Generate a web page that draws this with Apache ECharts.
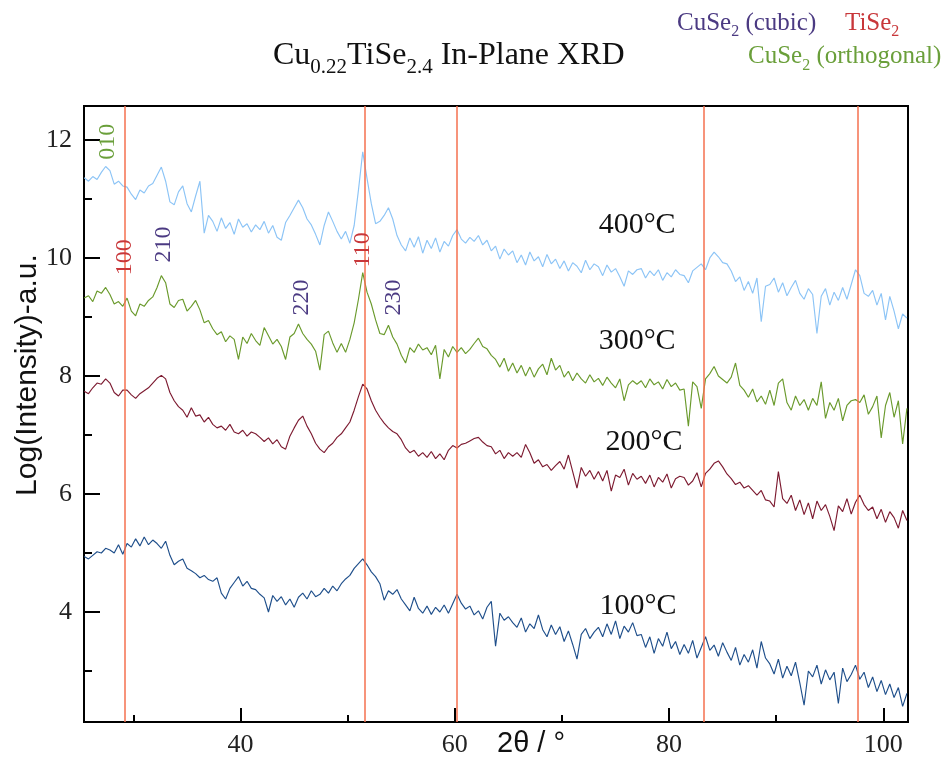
<!DOCTYPE html>
<html><head><meta charset="utf-8">
<script src="https://cdn.jsdelivr.net/npm/echarts@6/dist/echarts.min.js"></script>
<style>html,body{margin:0;padding:0;background:#fff}#c{width:943px;height:758px}</style>
</head><body><div id="c"></div>
<script>
// ---------- data ----------
const twoTheta = [
25.4,25.8,26.2,26.6,27.0,27.4,27.8,28.2,28.6,29.0,
29.4,29.8,30.2,30.6,31.0,31.4,31.8,32.2,32.6,33.0,
33.4,33.8,34.2,34.6,35.0,35.4,35.8,36.2,36.6,37.0,
37.4,37.8,38.2,38.6,39.0,39.4,39.8,40.2,40.6,41.0,
41.4,41.8,42.2,42.6,43.0,43.4,43.8,44.2,44.6,45.0,
45.4,45.8,46.2,46.6,47.0,47.4,47.8,48.2,48.6,49.0,
49.4,49.8,50.2,50.6,51.0,51.4,51.8,52.2,52.6,53.0,
53.4,53.8,54.2,54.6,55.0,55.4,55.8,56.2,56.6,57.0,
57.4,57.8,58.2,58.6,59.0,59.4,59.8,60.2,60.6,61.0,
61.4,61.8,62.2,62.6,63.0,63.4,63.8,64.2,64.6,65.0,
65.4,65.8,66.2,66.6,67.0,67.4,67.8,68.2,68.6,69.0,
69.4,69.8,70.2,70.6,71.0,71.4,71.8,72.2,72.6,73.0,
73.4,73.8,74.2,74.6,75.0,75.4,75.8,76.2,76.6,77.0,
77.4,77.8,78.2,78.6,79.0,79.4,79.8,80.2,80.6,81.0,
81.4,81.8,82.2,82.6,83.0,83.4,83.8,84.2,84.6,85.0,
85.4,85.8,86.2,86.6,87.0,87.4,87.8,88.2,88.6,89.0,
89.4,89.8,90.2,90.6,91.0,91.4,91.8,92.2,92.6,93.0,
93.4,93.8,94.2,94.6,95.0,95.4,95.8,96.2,96.6,97.0,
97.4,97.8,98.2,98.6,99.0,99.4,99.8,100.2,100.6,101.0,
101.4,101.8,102.2
];
const y400C = [
11.36,11.30,11.38,11.33,11.45,11.55,11.48,11.25,11.30,11.22,
11.20,11.08,10.99,11.15,11.10,11.22,11.26,11.40,11.54,11.30,
10.95,10.90,11.12,11.22,10.92,10.78,11.05,11.30,10.42,10.72,
10.62,10.45,10.68,10.50,10.60,10.40,10.66,10.52,10.58,10.44,
10.56,10.48,10.62,10.42,10.55,10.35,10.30,10.60,10.72,10.85,
10.98,10.85,10.66,10.56,10.40,10.22,10.55,10.78,10.62,10.45,
10.32,10.45,10.25,10.55,11.15,11.80,11.35,10.92,10.58,10.62,
10.72,10.85,10.66,10.38,10.22,10.12,10.34,10.18,10.36,10.08,
10.30,10.16,10.34,10.10,10.28,10.20,10.38,10.48,10.32,10.25,
10.35,10.28,10.38,10.22,10.30,10.12,10.20,9.98,10.15,10.05,
10.12,9.92,10.05,9.88,10.10,9.95,10.02,9.85,10.06,9.90,
9.98,9.82,9.95,9.78,9.92,9.86,9.75,9.96,9.80,9.90,
9.85,9.70,9.88,9.76,9.82,9.68,9.52,9.78,9.72,9.80,
9.82,9.66,9.78,9.70,9.80,9.62,9.75,9.68,9.80,9.72,
9.70,9.58,9.78,9.84,9.90,9.80,10.00,10.10,10.02,9.92,
9.90,9.78,9.60,9.68,9.45,9.60,9.40,9.66,8.92,9.52,
9.55,9.66,9.42,9.58,9.36,9.50,9.62,9.40,9.30,9.48,
9.38,8.72,9.35,9.48,9.20,9.42,9.28,9.50,9.30,9.55,
9.80,9.70,9.40,9.35,9.45,9.20,9.40,8.95,9.35,9.10,
8.80,9.05,8.98
];
const y300C = [
9.32,9.36,9.26,9.44,9.40,9.50,9.38,9.22,9.26,9.18,
9.32,9.10,9.02,9.22,9.18,9.28,9.34,9.50,9.70,9.58,
9.22,9.16,9.28,9.30,9.10,9.18,9.28,9.12,8.90,8.94,
8.80,8.70,8.75,8.58,8.68,8.62,8.28,8.66,8.55,8.72,
8.60,8.52,8.82,8.68,8.54,8.62,8.50,8.28,8.66,8.72,
8.88,8.72,8.62,8.54,8.42,8.10,8.70,8.76,8.56,8.40,
8.55,8.40,8.62,8.90,9.30,9.75,9.42,9.22,8.95,8.72,
8.70,8.86,8.66,8.54,8.35,8.22,8.48,8.40,8.54,8.44,
8.48,8.36,8.52,7.95,8.45,8.32,8.50,8.40,8.48,8.38,
8.45,8.55,8.64,8.50,8.46,8.35,8.28,8.15,8.30,8.08,
8.22,8.05,8.18,8.00,8.15,7.98,8.12,8.20,8.02,8.30,
8.10,8.18,7.98,8.08,7.92,8.05,7.95,7.88,8.02,7.90,
7.96,7.84,7.98,7.88,7.80,7.95,7.58,7.85,7.92,7.86,
7.92,7.80,7.95,7.85,7.90,7.78,7.94,7.82,7.88,7.76,
7.78,7.15,7.90,7.82,7.45,7.95,8.04,8.16,8.00,7.94,
7.88,7.98,8.22,7.84,7.76,7.64,7.78,7.56,7.66,7.52,
7.76,7.50,7.88,7.95,7.55,7.42,7.66,7.50,7.60,7.42,
7.62,7.50,7.90,7.28,7.55,7.42,7.62,7.24,7.50,7.58,
7.60,7.55,7.68,7.35,7.48,7.66,6.95,7.50,7.72,7.30,
7.58,6.85,7.45
];
const y200C = [
7.74,7.70,7.80,7.88,7.86,7.95,7.88,7.72,7.66,7.76,
7.76,7.68,7.62,7.70,7.75,7.80,7.88,7.96,8.01,7.95,
7.72,7.58,7.48,7.42,7.30,7.46,7.32,7.34,7.22,7.30,
7.18,7.12,7.15,7.08,7.18,7.05,7.02,7.08,6.98,7.05,
7.02,6.96,6.89,6.95,6.85,6.92,6.80,6.76,6.98,7.12,
7.25,7.32,7.15,7.02,6.86,6.76,6.70,6.80,6.86,6.96,
7.02,7.12,7.22,7.42,7.65,7.86,7.78,7.58,7.42,7.30,
7.20,7.12,7.06,7.02,6.92,6.78,6.70,6.74,6.64,6.70,
6.62,6.72,6.60,6.68,6.58,6.74,6.82,6.78,6.84,6.86,
6.90,6.94,6.96,6.88,6.82,6.80,6.68,6.74,6.60,6.70,
6.64,6.70,6.62,6.84,6.70,6.52,6.58,6.46,6.50,6.40,
6.48,6.55,6.42,6.66,6.38,6.10,6.45,6.30,6.40,6.25,
6.38,6.22,6.40,6.05,6.32,6.28,6.42,6.15,6.35,6.25,
6.30,6.18,6.32,6.12,6.28,6.20,6.34,6.10,6.26,6.30,
6.28,6.15,6.22,6.36,6.12,6.35,6.42,6.52,6.56,6.46,
6.34,6.26,6.16,6.20,6.10,6.14,6.06,5.98,6.06,5.90,
5.88,5.78,6.38,5.92,5.84,5.98,5.72,5.90,5.65,5.85,
5.58,5.88,5.72,5.82,5.62,5.38,5.80,5.70,5.92,5.66,
5.86,5.98,5.82,5.72,5.78,5.58,5.74,5.52,5.70,5.60,
5.42,5.72,5.55
];
const y100C = [
4.94,4.90,4.96,5.02,5.00,5.08,5.05,5.00,5.14,4.98,
5.16,5.10,5.24,5.12,5.27,5.14,5.22,5.16,5.08,5.20,
4.96,4.80,4.86,4.90,4.74,4.70,4.65,4.58,4.62,4.55,
4.52,4.58,4.32,4.22,4.40,4.50,4.60,4.44,4.52,4.40,
4.38,4.30,4.24,4.00,4.28,4.18,4.26,4.12,4.22,4.08,
4.25,4.32,4.22,4.36,4.26,4.30,4.40,4.32,4.44,4.36,
4.48,4.56,4.62,4.74,4.82,4.90,4.80,4.68,4.60,4.48,
4.20,4.36,4.30,4.38,4.22,4.12,4.02,4.25,4.06,3.98,
4.10,3.96,4.08,4.00,4.12,3.98,4.14,4.30,4.15,4.05,
4.10,3.95,4.02,3.88,4.08,4.18,3.42,3.98,3.86,3.92,
3.82,3.74,3.90,3.66,3.80,3.72,3.95,3.70,3.58,3.78,
3.62,3.75,3.50,3.68,3.45,3.20,3.62,3.72,3.55,3.66,
3.74,3.58,3.80,3.62,3.85,3.55,3.76,3.66,3.82,3.60,
3.62,3.40,3.58,3.30,3.55,3.42,3.66,3.38,3.50,3.28,
3.45,3.30,3.52,3.22,3.40,3.58,3.35,3.44,3.25,3.48,
3.32,3.18,3.40,3.10,3.28,3.15,3.36,3.05,3.50,3.22,
3.12,2.95,3.20,2.88,3.08,2.92,3.15,2.80,2.42,3.00,
2.90,3.10,2.78,3.02,2.85,2.98,2.45,3.05,2.82,2.94,
3.10,2.86,2.98,2.72,2.90,2.65,2.84,2.60,2.78,2.55,
2.72,2.40,2.62
];
const tise2Peaks = [29.2, 51.6, 60.15, 83.2, 97.6];
const xMajorTicks = [40, 60, 80, 100];
const xMinorTicks = [30, 50, 70, 90];
const yMajorTicks = [4, 6, 8, 10, 12];
const yMinorTicks = [3, 5, 7, 9, 11];
const seriesNames = ['400°C', '300°C', '200°C', '100°C'];
// peak index labels: [text, 2θ, log intensity, colour key]
const peakLabels = [
  ['010', 27.62, 11.97, 'ortho'],
  ['100', 29.21, 10.01, 'tise2'],
  ['210', 32.85, 10.23, 'cubic'],
  ['220', 45.72, 9.33, 'cubic'],
  ['110', 51.41, 10.14, 'tise2'],
  ['230', 54.30, 9.33, 'cubic']
];
// temperature labels: [text, 2θ (left edge), log intensity (baseline)]
const tempLabels = [
  ['400°C', 73.42, 10.38],
  ['300°C', 73.42, 8.42],
  ['200°C', 74.07, 6.70],
  ['100°C', 73.51, 3.93]
];

// ---------- styles ----------
const SERIF = '"Liberation Serif","Times New Roman",serif';
const SANS = '"Liberation Sans",Arial,sans-serif';
const lineColors = ['#8cc4f6', '#6a9a2c', '#7d1b31', '#1f4f8b'];
const labelColors = { ortho: '#6a9f3a', cubic: '#4b3a82', tise2: '#c8373a' };
const X_MIN = 25.38, X_MAX = 102.3, Y_MIN = 2.136, Y_MAX = 12.575;

const chart = echarts.init(document.getElementById('c'), null, { renderer: 'canvas' });
const mctx = document.createElement('canvas').getContext('2d');
function tw(t, size, fam) { mctx.font = size + 'px ' + fam; return mctx.measureText(t).width; }
function txt(t, x, y, size, fam, color, extra) {
  return Object.assign({
    type: 'text', x: x, y: y, silent: true, z: 100,
    style: { text: t, fontSize: size, fontFamily: fam, fill: color,
      align: 'left', verticalAlign: 'middle', textAlign: 'left', textVerticalAlign: 'middle' }
  }, extra || {});
}
function richLine(parts, left, baseline, fam, color) {
  const out = []; let x = left;
  parts.forEach(p => {
    const b = baseline + (p.drop || 0);
    out.push(txt(p.t, x, b - 0.34 * p.size, p.size, fam, color));
    x += tw(p.t, p.size, fam);
  });
  return out;
}

const series = [y400C, y300C, y200C, y100C].map((ys, k) => ({
  name: seriesNames[k], type: 'line', showSymbol: false, silent: true, z: 2,
  lineStyle: { color: lineColors[k], width: 1.15 },
  data: twoTheta.map((x, i) => [x, ys[i]])
}));
series.push({
  name: 'TiSe2', type: 'line', data: [], z: 5, silent: true,
  markLine: {
    symbol: ['none', 'none'], silent: true, label: { show: false },
    lineStyle: { color: '#f4714f', width: 1.5, type: 'solid' },
    data: tise2Peaks.map(v => ({ xAxis: v }))
  }
});

const axisCommon = { type: 'value', splitLine: { show: false } };
chart.setOption({
  animation: false,
  backgroundColor: '#fff',
  grid: { left: 84, right: 35, top: 106, bottom: 35, show: true, borderColor: '#000', borderWidth: 2 },
  xAxis: [
    Object.assign({}, axisCommon, {
      min: X_MIN, max: X_MAX, position: 'bottom',
      axisLine: { show: true, lineStyle: { color: '#000', width: 2 } },
      axisTick: { show: true, inside: true, length: 14, customValues: xMajorTicks, lineStyle: { color: '#000', width: 2 } },
      axisLabel: { customValues: xMajorTicks, fontFamily: SERIF, fontSize: 26, color: '#222', margin: 10 }
    }),
    Object.assign({}, axisCommon, {
      min: X_MIN, max: X_MAX, position: 'bottom',
      axisLine: { show: false },
      axisTick: { show: true, inside: true, length: 7, customValues: xMinorTicks, lineStyle: { color: '#000', width: 2 } },
      axisLabel: { show: false }
    })
  ],
  yAxis: [
    Object.assign({}, axisCommon, {
      min: Y_MIN, max: Y_MAX, position: 'left',
      axisLine: { show: true, lineStyle: { color: '#000', width: 2 } },
      axisTick: { show: true, inside: true, length: 16, customValues: yMajorTicks, lineStyle: { color: '#000', width: 2 } },
      axisLabel: { customValues: yMajorTicks, fontFamily: SERIF, fontSize: 26, color: '#222', margin: 12 }
    }),
    Object.assign({}, axisCommon, {
      min: Y_MIN, max: Y_MAX, position: 'left',
      axisLine: { show: false },
      axisTick: { show: true, inside: true, length: 8, customValues: yMinorTicks, lineStyle: { color: '#000', width: 2 } },
      axisLabel: { show: false }
    })
  ],
  series: series
});

// ---------- text annotations ----------
const g = [];
g.push(...richLine([
  { t: 'Cu', size: 32 }, { t: '0.22', size: 21, drop: 8 },
  { t: 'TiSe', size: 32 }, { t: '2.4', size: 21, drop: 8 },
  { t: ' In-Plane XRD', size: 32 }
], 273, 66.7, SERIF, '#111'));
g.push(...richLine([{ t: 'CuSe', size: 25 }, { t: '2', size: 16, drop: 6 }, { t: ' (cubic)', size: 25 }],
  677, 31.7, SERIF, labelColors.cubic));
g.push(...richLine([{ t: 'TiSe', size: 25 }, { t: '2', size: 16, drop: 6 }],
  845, 31.7, SERIF, labelColors.tise2));
g.push(...richLine([{ t: 'CuSe', size: 25 }, { t: '2', size: 16, drop: 6 }, { t: ' (orthogonal)', size: 25 }],
  748, 65, SERIF, labelColors.ortho));
g.push({ type: 'text', x: 28, y: 375, rotation: Math.PI / 2, silent: true, z: 100,
  style: { text: 'Log(Intensity)-a.u.', fontSize: 30, fontFamily: SANS, fill: '#111',
    align: 'center', verticalAlign: 'middle', textAlign: 'center', textVerticalAlign: 'middle' } });
g.push(txt('2θ / °', 497, 744, 29, SANS, '#111'));
peakLabels.forEach(([t, x, y, key]) => {
  const p = chart.convertToPixel({ gridIndex: 0 }, [x, y]);
  g.push({ type: 'text', x: p[0], y: p[1], rotation: Math.PI / 2, silent: true, z: 100,
    style: { text: t, fontSize: 24, fontFamily: SERIF, fill: labelColors[key],
      align: 'center', verticalAlign: 'middle', textAlign: 'center', textVerticalAlign: 'middle' } });
});
tempLabels.forEach(([t, x, y]) => {
  const p = chart.convertToPixel({ gridIndex: 0 }, [x, y]);
  g.push(txt(t, p[0], p[1] - 0.34 * 30, 30, SERIF, '#111'));
});
chart.setOption({ graphic: g });
</script>
</body></html>
